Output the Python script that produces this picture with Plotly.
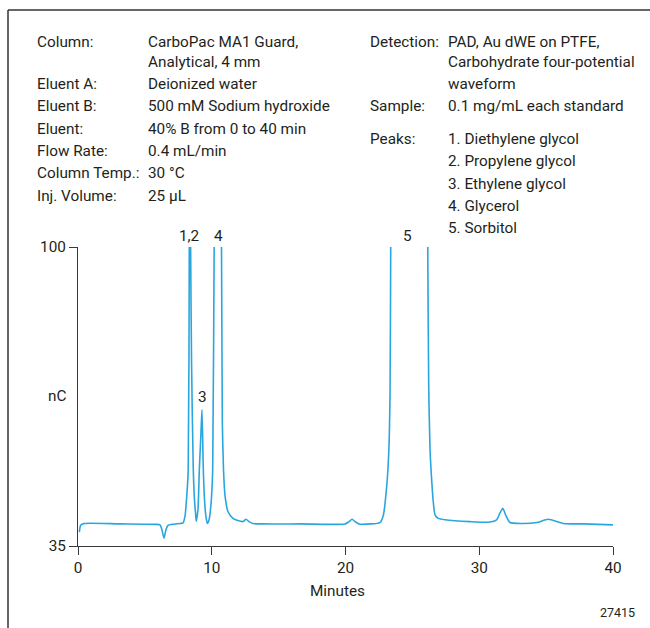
import plotly.graph_objects as go

# ---- data ----
time_min = [0.10, 0.20, 0.45, 3.14, 5.80, 6.13, 6.28, 6.43, 6.58, 6.73, 7.03, 7.63,
            7.85, 8.00, 8.11, 8.24, 8.32, 8.37, 8.42, 8.49, 8.62, 8.71, 8.79, 8.84,
            8.97, 9.07, 9.20, 9.27, 9.37, 9.46, 9.56, 9.67,
            9.79, 9.94, 10.07, 10.18, 10.47, 10.73, 10.79, 10.88, 10.99, 11.21, 11.59,
            11.89, 12.34, 12.56, 12.79, 13.08, 13.76, 16.60,
            19.96, 20.26, 20.49, 20.71, 21.01, 21.83, 22.58, 22.83, 23.08, 23.23, 23.33,
            23.38, 23.48, 24.07, 24.75, 25.57, 26.06, 26.15, 26.22, 26.32, 26.45, 26.55,
            26.70, 26.94, 27.44, 29.31, 30.80, 31.30, 31.55, 31.76, 31.98, 32.30, 33.29,
            34.30, 35.16, 36.28, 37.78, 40.00]
signal_nc = [38.0, 39.5, 39.9, 39.8, 39.7, 39.6, 38.5, 36.7, 38.6, 39.5, 39.7, 39.9,
             40.0, 41.5, 45.0, 51.5, 100.0, 130.0, 100.0, 75.0, 51.5, 45.0, 42.0, 40.4,
             43.0, 51.5, 60.0, 64.6, 51.5, 45.0, 41.5, 39.9,
             40.6, 44.0, 51.5, 100.0, 160.0, 100.0, 62.0, 51.5, 46.0, 42.5, 41.0,
             40.6, 40.3, 40.8, 40.3, 39.9, 39.8, 39.8,
             39.8, 40.3, 40.8, 40.3, 39.8, 39.8, 40.1, 41.7, 48.0, 55.0, 68.0,
             100.0, 160.0, 300.0, 320.0, 250.0, 150.0, 100.0, 70.0, 56.0, 49.0, 45.0,
             41.7, 41.0, 40.7, 40.3, 40.2, 40.7, 42.2, 43.2, 41.7, 40.1, 39.9,
             40.1, 40.8, 39.9, 39.8, 39.6]

peak_labels = ["1,2", "3", "4", "5"]
peak_label_px = [189, 202, 218, 407]
peak_label_py = [236, 397, 236, 236]

x_ticks = [0, 10, 20, 30, 40]
y_ticks = [35, 100]

cond_labels = ["Column:", "Eluent A:", "Eluent B:", "Eluent:", "Flow Rate:",
               "Column Temp.:", "Inj. Volume:"]
cond_label_rows = [0, 2, 3, 4, 5, 6, 7]
cond_values = ["CarboPac MA1 Guard,", "Analytical, 4 mm", "Deionized water",
               "500 mM Sodium hydroxide", "40% B from 0 to 40 min", "0.4 mL/min",
               "30 °C", "25 µL"]
right_labels = ["Detection:", "Sample:", "Peaks:"]
right_label_y = [42, 106, 139]
right_values = ["PAD, Au dWE on PTFE,", "Carbohydrate four-potential", "waveform",
                "0.1 mg/mL each standard", "1. Diethylene glycol", "2. Propylene glycol",
                "3. Ethylene glycol", "4. Glycerol", "5. Sorbitol"]
right_value_y = [42, 62, 84, 106, 139, 161, 184, 206, 228]

# ---- layout helpers (pixel -> paper) ----
L, R, T, B = 78, 613, 247, 546


def px(x):
    return (x - L) / (R - L)


def py(y):
    return (B - y) / (B - T)


FONT = "Roboto, Liberation Sans, sans-serif"
TXT = "#231f20"
AX = "#3a3a3a"
BLUE = "#2aa6de"
FS = 15.3

fig = go.Figure()
fig.add_trace(go.Scatter(x=time_min, y=signal_nc, mode="lines",
                         line=dict(color=BLUE, width=1.6, shape="spline",
                                   smoothing=0.6),
                         hoverinfo="skip", showlegend=False))

ann = []
row_y = [42, 62, 84, 106, 129, 151, 173, 196]
for lab, r in zip(cond_labels, cond_label_rows):
    ann.append(dict(x=px(35), y=py(row_y[r]), text=lab, xanchor="left"))
for i, v in enumerate(cond_values):
    ann.append(dict(x=px(146), y=py(row_y[i]), text=v, xanchor="left"))
for lab, yy in zip(right_labels, right_label_y):
    ann.append(dict(x=px(368), y=py(yy), text=lab, xanchor="left"))
for v, yy in zip(right_values, right_value_y):
    ann.append(dict(x=px(446), y=py(yy), text=v, xanchor="left"))
for t, xx, yy in zip(peak_labels, peak_label_px, peak_label_py):
    ann.append(dict(x=px(xx), y=py(yy), text=t, xanchor="center"))
ann.append(dict(x=px(57), y=py(396), text="nC", xanchor="center"))
ann.append(dict(x=px(337), y=py(591), text="Minutes", xanchor="center"))
for a in ann:
    a.update(xref="paper", yref="paper", yanchor="middle", showarrow=False,
             font=dict(family=FONT, size=FS, color=TXT))

ann.append(dict(x=px(637), y=py(612), xref="paper", yref="paper", text="27415",
                xanchor="right", yanchor="middle", showarrow=False,
                font=dict(family=FONT, size=12.5, color=TXT)))

shapes = [
    dict(type="line", xref="paper", yref="paper", x0=px(8), x1=px(660),
         y0=py(10), y1=py(10), line=dict(color="#333", width=1.5)),
    dict(type="line", xref="paper", yref="paper", x0=px(8), x1=px(8),
         y0=py(10), y1=py(640), line=dict(color="#333", width=1.5)),
]

fig.update_layout(
    width=650, height=628, autosize=False,
    margin=dict(l=L, r=650 - R, t=T, b=628 - B, pad=0),
    paper_bgcolor="white", plot_bgcolor="white",
    annotations=ann, shapes=shapes, showlegend=False,
    xaxis=dict(range=[0, 40], tickvals=x_ticks, ticks="outside", ticklen=8,
               tickwidth=1.2, tickcolor=AX, showline=True, linecolor=AX, linewidth=1.2,
               showgrid=False, zeroline=False,
               tickfont=dict(family=FONT, size=FS, color=TXT)),
    yaxis=dict(range=[35, 100], tickvals=y_ticks, ticks="outside", ticklen=8,
               tickwidth=1.2, tickcolor=AX, showline=True, linecolor=AX, linewidth=1.2,
               showgrid=False, zeroline=False,
               tickfont=dict(family=FONT, size=FS, color=TXT)),
)

fig.write_html("out.html", config={"displayModeBar": False},
               post_script="document.body.style.margin='0px';")
